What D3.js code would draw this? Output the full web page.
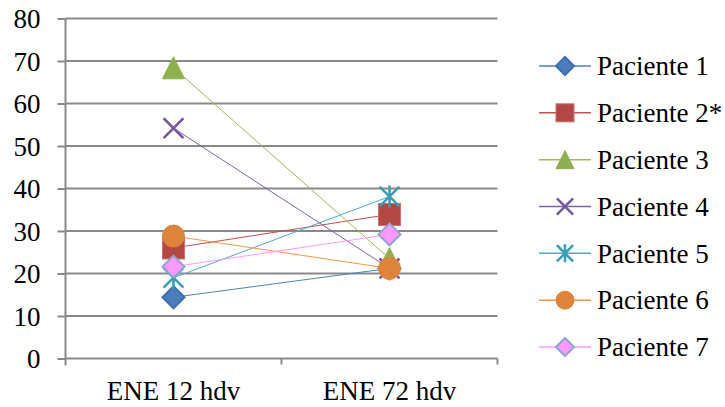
<!DOCTYPE html>
<html>
<head>
<meta charset="utf-8">
<script src="https://cdn.jsdelivr.net/npm/d3@7"></script>
<style>
  body { margin: 0; background: #fff; }
  svg { display: block; }
  svg text { font-family: 'Liberation Serif', serif; }
</style>
</head>
<body>
<script>
  // Chart data
  const categories = ['ENE 12 hdv', 'ENE 72 hdv'];
  const seriesNames = ['Paciente 1', 'Paciente 2*', 'Paciente 3', 'Paciente 4', 'Paciente 5', 'Paciente 6', 'Paciente 7'];
  const paciente1 = [14.4, 21.2];
  const paciente2 = [26, 33.9];
  const paciente3 = [68.4, 23.5];
  const paciente4 = [54.2, 21.2];
  const paciente5 = [19, 38.1];
  const paciente6 = [28.8, 21.2];
  const paciente7 = [21.6, 29.2];
  const yTicks = [0, 10, 20, 30, 40, 50, 60, 70, 80];

  const seriesValues = [paciente1, paciente2, paciente3, paciente4, paciente5, paciente6, paciente7];

  // Styles per series
  const styles = [
    { line: '#4f81bd', fill: '#4a7ebb', stroke: '#3d6fae', shape: 'diamond' },
    { line: '#c0504d', fill: '#b34744', stroke: '#d06f6c', shape: 'square' },
    { line: '#9bbb59', fill: '#8fb04e', stroke: '#8fb04e', shape: 'triangle' },
    { line: '#8064a2', fill: 'none', stroke: '#7558a0', shape: 'x' },
    { line: '#4bacc6', fill: 'none', stroke: '#3a9cb5', shape: 'star' },
    { line: '#f79646', fill: '#dd843a', stroke: '#dd843a', shape: 'circle' },
    { line: '#ff99ff', fill: '#ff99ff', stroke: '#8ea6cc', shape: 'diamond' }
  ];

  const FONT = "'Liberation Serif', serif";
  const width = 725, height = 407;
  const margin = { top: 18.5, left: 65.5, right: 227.5, bottom: 48.5 };
  const innerW = width - margin.left - margin.right;
  const innerH = height - margin.top - margin.bottom;

  const svg = d3.select('body').append('svg')
    .attr('width', width)
    .attr('height', height);

  const xScale = d3.scaleBand()
    .domain(categories)
    .range([0, innerW]);

  const yScale = d3.scaleLinear()
    .domain([0, 80])
    .range([innerH, 0]);

  const chart = svg.append('g')
    .attr('transform', `translate(${margin.left},${margin.top})`);

  // Gridlines
  chart.append('g')
    .selectAll('line')
    .data(yTicks.filter(d => d > 0))
    .join('line')
    .attr('x1', 0)
    .attr('x2', innerW)
    .attr('y1', d => yScale(d))
    .attr('y2', d => yScale(d))
    .attr('stroke', '#8a8a8a')
    .attr('stroke-width', 2);

  // Y axis
  const yAxis = chart.append('g')
    .call(d3.axisLeft(yScale).tickValues(yTicks).tickSize(8).tickPadding(17));
  yAxis.attr('font-family', FONT);
  yAxis.select('.domain').remove();
  yAxis.selectAll('.tick line').attr('stroke', '#8a8a8a').attr('stroke-width', 2);
  yAxis.selectAll('.tick text')
    .attr('font-size', 27)
    .style('font-family', FONT)
    .attr('fill', '#000')
    .attr('dy', '0.34em');
  chart.append('line')
    .attr('x1', 0).attr('x2', 0)
    .attr('y1', 0).attr('y2', innerH + 7)
    .attr('stroke', '#8a8a8a').attr('stroke-width', 2);

  // X axis
  chart.append('line')
    .attr('x1', 0).attr('x2', innerW)
    .attr('y1', innerH).attr('y2', innerH)
    .attr('stroke', '#8a8a8a').attr('stroke-width', 2);
  const bounds = categories.map(c => xScale(c) + xScale.bandwidth());
  chart.append('g')
    .selectAll('line')
    .data(bounds)
    .join('line')
    .attr('x1', d => d).attr('x2', d => d)
    .attr('y1', innerH).attr('y2', innerH + 6)
    .attr('stroke', '#8a8a8a').attr('stroke-width', 2);
  chart.append('g')
    .selectAll('text')
    .data(categories)
    .join('text')
    .attr('x', d => xScale(d) + xScale.bandwidth() / 2)
    .attr('y', innerH + 41.5)
    .attr('text-anchor', 'middle')
    .attr('font-size', 27)
    .style('font-family', FONT)
    .attr('fill', '#000')
    .text(d => d);

  const cx = c => xScale(c) + xScale.bandwidth() / 2;

  // Marker drawing
  function drawMarker(g, style, x, y, s) {
    const h = s / 2;
    if (style.shape === 'diamond') {
      g.append('path')
        .attr('d', `M${x},${y - h}L${x + h},${y}L${x},${y + h}L${x - h},${y}Z`)
        .attr('fill', style.fill).attr('stroke', style.stroke).attr('stroke-width', 2);
    } else if (style.shape === 'square') {
      g.append('rect')
        .attr('x', x - h).attr('y', y - h).attr('width', s).attr('height', s)
        .attr('fill', style.fill).attr('stroke', style.stroke).attr('stroke-width', 1);
    } else if (style.shape === 'triangle') {
      g.append('path')
        .attr('d', `M${x},${y - h}L${x + h},${y + h}L${x - h},${y + h}Z`)
        .attr('fill', style.fill).attr('stroke', style.stroke).attr('stroke-width', 1);
    } else if (style.shape === 'x') {
      const k = h * 0.9;
      g.append('path')
        .attr('d', `M${x - k},${y - k}L${x + k},${y + k}M${x - k},${y + k}L${x + k},${y - k}`)
        .attr('fill', 'none').attr('stroke', style.stroke).attr('stroke-width', 2.5);
    } else if (style.shape === 'star') {
      const k = h * 0.9;
      g.append('path')
        .attr('d', `M${x - k},${y - k}L${x + k},${y + k}M${x - k},${y + k}L${x + k},${y - k}M${x},${y - h}L${x},${y + h}`)
        .attr('fill', 'none').attr('stroke', style.stroke).attr('stroke-width', 2.5);
    } else if (style.shape === 'circle') {
      g.append('circle')
        .attr('cx', x).attr('cy', y).attr('r', h)
        .attr('fill', style.fill).attr('stroke', style.stroke);
    }
  }

  // Line generator
  const line = d3.line()
    .x((d, i) => cx(categories[i]))
    .y(d => yScale(d));

  const linesG = chart.append('g');
  seriesValues.forEach((vals, i) => {
    linesG.append('path')
      .datum(vals)
      .attr('d', line)
      .attr('fill', 'none')
      .attr('stroke', styles[i].line)
      .attr('stroke-width', 1);
  });

  const markersG = chart.append('g');
  seriesValues.forEach((vals, i) => {
    vals.forEach((v, j) => {
      drawMarker(markersG, styles[i], cx(categories[j]), yScale(v), 22);
    });
  });

  // Legend
  const legend = svg.append('g');
  const legendY = d3.scaleLinear().domain([0, seriesNames.length - 1]).range([66, 347]);
  seriesNames.forEach((name, i) => {
    const y = legendY(i);
    legend.append('line')
      .attr('x1', 539).attr('x2', 591)
      .attr('y1', y).attr('y2', y)
      .attr('stroke', styles[i].line).attr('stroke-width', 1.5);
    drawMarker(legend, styles[i], 565, y, 18);
    legend.append('text')
      .attr('x', 597)
      .attr('y', y)
      .attr('dy', '0.34em')
      .attr('font-size', 27)
      .style('font-family', FONT)
      .attr('fill', '#000')
      .text(name);
  });
</script>
</body>
</html>
